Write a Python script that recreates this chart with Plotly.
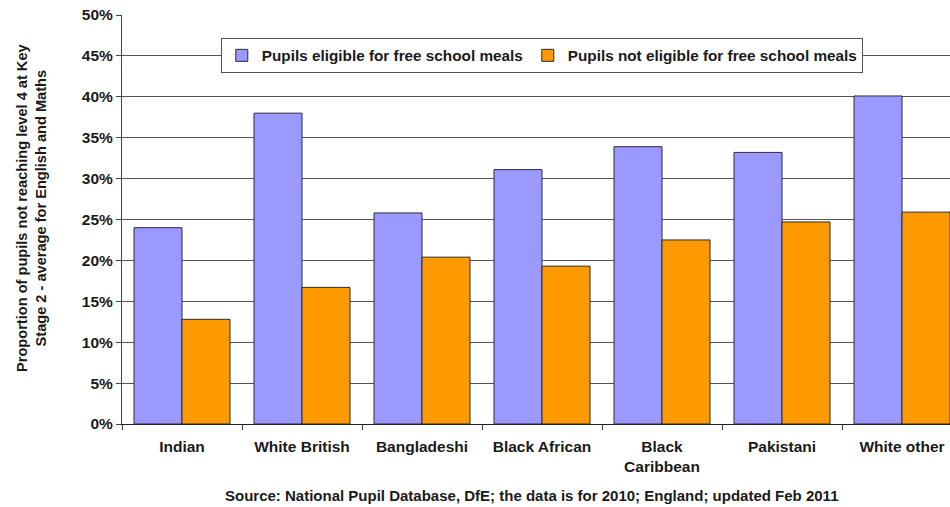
import plotly.graph_objects as go

categories = ["Indian", "White British", "Bangladeshi", "Black African",
              "Black<br>Caribbean", "Pakistani", "White other"]
eligible_fsm = [24.0, 38.0, 25.8, 31.1, 33.9, 33.2, 40.1]
not_eligible_fsm = [12.8, 16.7, 20.4, 19.3, 22.5, 24.7, 25.9]
y_ticks = [0, 5, 10, 15, 20, 25, 30, 35, 40, 45, 50]

FONT = "Liberation Sans, Arial, sans-serif"
TEXT = "#1a1a1a"

fig = go.Figure()
fig.add_trace(go.Bar(
    x=categories, y=eligible_fsm, name="<b>Pupils eligible for free school meals</b>",
    marker=dict(color="#9999ff", line=dict(color="#2b2b3a", width=1)),
))
fig.add_trace(go.Bar(
    x=categories, y=not_eligible_fsm, name="<b>Pupils not eligible for free school meals</b>",
    marker=dict(color="#ff9900", line=dict(color="#2b2b2b", width=1)),
))

fig.update_layout(
    width=950, height=507,
    margin=dict(l=122, r=0, t=15, b=83),
    paper_bgcolor="white", plot_bgcolor="white",
    barmode="group", bargap=0.2, bargroupgap=0,
    font=dict(family=FONT, size=15, color=TEXT),
    legend=dict(
        orientation="h", x=0.507, xanchor="center", y=0.944, yanchor="top",
        bgcolor="white", bordercolor="#555555", borderwidth=1,
        font=dict(family=FONT, size=15.3, color=TEXT),
        itemwidth=30, tracegroupgap=0,
    ),
    xaxis=dict(
        range=[-0.5, 6.4], showgrid=False, showline=True, linecolor="#222222",
        linewidth=1, ticks="outside", tickson="boundaries", ticklen=5,
        tickcolor="#444444", tickfont=dict(family=FONT, size=15.5, color=TEXT),
        tickprefix="<b>", ticksuffix="</b>", ticklabelstandoff=8,
    ),
    yaxis=dict(
        range=[0, 50], tickvals=y_ticks,
        ticktext=[f"<b>{v}%</b>" for v in y_ticks],
        showgrid=True, gridcolor="#555555", gridwidth=1,
        showline=True, linecolor="#444444", linewidth=1,
        ticks="outside", ticklen=5, tickcolor="#444444",
        tickfont=dict(family=FONT, size=15.5, color=TEXT),
        zeroline=False,
    ),
    annotations=[
        dict(
            text="<b>Proportion of pupils not reaching level 4 at Key<br>Stage 2 - average for English and Maths</b>",
            xref="paper", yref="paper", x=-0.110, y=0.528, xanchor="center", yanchor="middle",
            textangle=-90, showarrow=False, font=dict(family=FONT, size=14.6, color=TEXT),
        ),
        dict(
            text="<b>Source: National Pupil Database, DfE; the data is for 2010; England; updated Feb 2011</b>",
            xref="paper", yref="paper", x=0.495, y=-0.176, xanchor="center", yanchor="middle",
            showarrow=False, font=dict(family=FONT, size=15, color=TEXT),
        ),
    ],
)

fig.write_html("out.html")
